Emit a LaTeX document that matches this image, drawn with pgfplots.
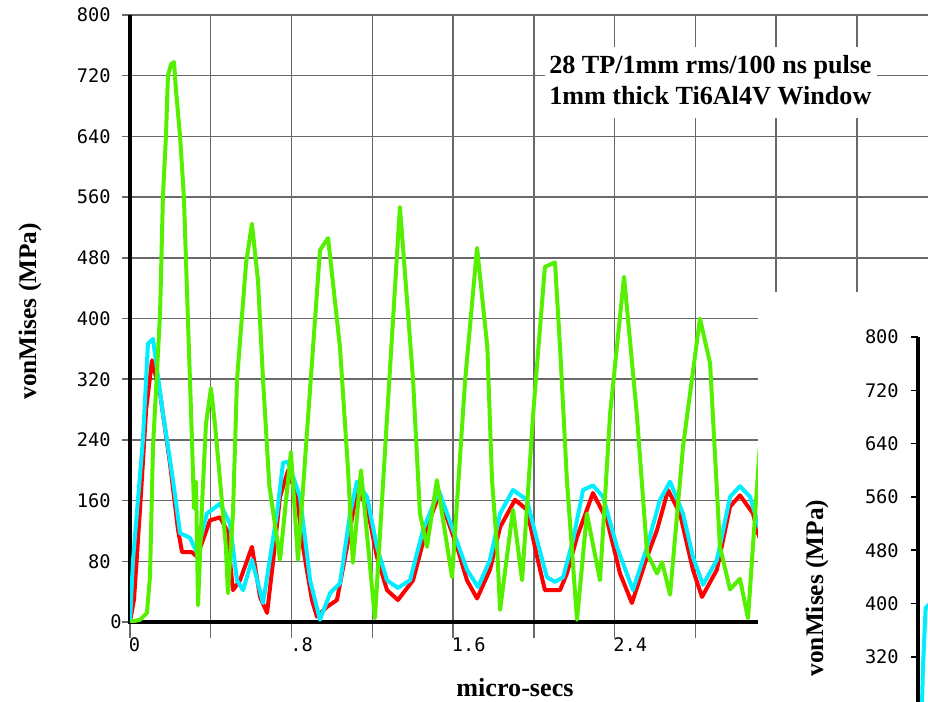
\documentclass[border=0pt]{standalone}
\usepackage{fontspec}
\setmainfont{Liberation Serif}
\newfontfamily\tickfont{DejaVu Sans Mono}
\usepackage{pgfplots}
\pgfplotsset{compat=1.18}

\definecolor{vmgreen}{RGB}{84,240,0}
\definecolor{vmred}{RGB}{255,0,0}
\definecolor{vmcyan}{RGB}{0,238,255}
\definecolor{gridgray}{RGB}{105,105,105}

\newcommand\tickfs{\tickfont\fontsize{14}{14}\selectfont}
\newcommand\labfs{\bfseries\fontsize{19.6}{19.6}\selectfont}
\newcommand\ylabfs{\bfseries\fontsize{19}{19}\selectfont}

\begin{document}
\begin{tikzpicture}[x=0.75pt,y=-0.75pt]
\path[use as bounding box] (0,0) rectangle (928,701);
\coordinate (mainO) at (130,622);
\coordinate (insetO) at (918,870);

% main stress history
\begin{axis}[
  at={(mainO)}, anchor=south west,
  scale only axis, width=605.7pt, height=455.25pt,
  xmin=0, xmax=4, ymin=0, ymax=800,
  enlargelimits=false,
  axis x line*=bottom, axis y line*=left,
  x axis line style={line width=3pt, black, shorten <=-1.5pt},
  y axis line style={line width=3pt, black},
  xtick={0,0.4,0.8,1.2,1.6,2.0,2.4,2.8,3.2,3.6,4.0},
  xticklabels={0,,.8,,1.6,,2.4,,,,},
  ytick={0,80,160,240,320,400,480,560,640,720,800},
  yticklabels={0\hspace*{-9pt},80,160,240,320,400,480,560,640,720,800},
  grid=major,
  grid style={draw=gridgray, line width=1.1pt},
  tick align=outside,
  xtick style={draw=gridgray, line width=1.1pt, /pgfplots/major tick length=12pt},
  ytick style={draw=gridgray, line width=1.1pt, /pgfplots/major tick length=6pt},
  xticklabel style={font=\tickfs, anchor=north west, inner sep=0pt, yshift=-7pt, xshift=-1pt},
  yticklabel style={font=\tickfs, anchor=east, inner sep=0pt, xshift=-10pt},
  xlabel={micro-secs},
  xlabel style={at={(axis description cs:0.4767,-0.108)}, anchor=center, font=\labfs},
  ylabel={vonMises (MPa)},
  ylabel style={at={(axis description cs:-0.1238,0.512)}, anchor=center, font=\ylabfs},
  line join=round,
]
\addplot[vmred, line width=3pt] coordinates {
(0,0) (0.02,30) (0.05,150) (0.08,280) (0.109,345) (0.149,301) (0.198,209)
(0.238,121) (0.258,92) (0.307,92) (0.332,86) (0.396,134) (0.446,138)
(0.480,121) (0.510,42) (0.545,55) (0.604,99) (0.644,33) (0.679,12)
(0.708,78) (0.743,165) (0.783,200) (0.827,165) (0.857,99) (0.901,29)
(0.926,7) (0.976,20) (1.025,29) (1.075,99) (1.124,174) (1.174,152)
(1.223,86) (1.273,42) (1.327,29) (1.402,55) (1.471,125) (1.530,167)
(1.620,99) (1.669,55) (1.719,31) (1.783,69) (1.833,125) (1.907,161)
(1.966,148) (2.016,86) (2.055,42) (2.130,42) (2.164,64) (2.214,112)
(2.293,170) (2.363,134) (2.427,64) (2.486,25) (2.561,86) (2.610,121)
(2.665,174) (2.724,143) (2.788,69) (2.833,33) (2.907,69) (2.972,152)
(3.021,167) (3.086,143) (3.110,117) (3.15,90)
};
\addplot[vmcyan, line width=3pt] coordinates {
(0,0) (0.015,82) (0.064,240) (0.089,367) (0.114,373) (0.163,275)
(0.213,187) (0.248,117) (0.297,111) (0.332,91) (0.381,143) (0.446,156)
(0.495,130) (0.530,55) (0.560,42) (0.604,82) (0.659,25) (0.728,143)
(0.758,210) (0.783,211) (0.842,165) (0.892,55) (0.941,3) (0.991,38)
(1.040,51) (1.090,143) (1.124,185) (1.174,165) (1.223,99) (1.273,55)
(1.327,45) (1.387,55) (1.451,121) (1.530,173) (1.600,121) (1.669,69)
(1.724,46) (1.783,82) (1.833,143) (1.897,174) (1.966,161) (2.016,108)
(2.065,59) (2.105,53) (2.145,59) (2.194,108) (2.244,174) (2.293,180)
(2.343,165) (2.412,99) (2.491,42) (2.561,99) (2.625,161) (2.675,185)
(2.739,143) (2.788,86) (2.838,49) (2.907,82) (2.972,165) (3.021,179)
(3.071,165) (3.110,130) (3.15,100)
};
\addplot[vmgreen, line width=3pt] coordinates {
(0,0) (0.05,3) (0.084,12) (0.099,60) (0.114,231) (0.149,407) (0.163,560)
(0.178,640) (0.188,720) (0.203,735) (0.218,738) (0.228,700) (0.248,640)
(0.267,560) (0.287,398) (0.307,240) (0.317,150) (0.327,185) (0.337,22)
(0.356,150) (0.376,260) (0.401,308) (0.421,260) (0.446,187) (0.475,99)
(0.485,38) (0.510,143) (0.530,319) (0.575,473) (0.604,525) (0.634,450)
(0.659,319) (0.690,180) (0.743,82) (0.797,224) (0.832,82) (0.890,300)
(0.941,490) (0.981,506) (1.040,362) (1.080,200) (1.104,78) (1.144,200)
(1.213,5) (1.280,300) (1.337,547) (1.402,319) (1.436,143) (1.471,99)
(1.520,187) (1.595,59) (1.660,319) (1.719,493) (1.770,362) (1.793,187)
(1.818,99) (1.833,16) (1.897,148) (1.942,55) (1.997,275) (2.055,468)
(2.105,474) (2.130,362) (2.164,187) (2.214,3) (2.263,143) (2.328,55)
(2.378,275) (2.447,455) (2.510,275) (2.561,91) (2.610,64) (2.635,79)
(2.675,36) (2.739,231) (2.823,400) (2.873,341) (2.922,99) (2.972,43)
(3.021,57) (3.061,5) (3.115,215) (3.15,330)
};
\end{axis}

% annotation box
\fill[white] (545,47) rectangle (877,118);
\node[anchor=base west, inner sep=0pt, font=\labfs] at (549,73) {28 TP/1mm rms/100 ns pulse};
\node[anchor=base west, inner sep=0pt, font=\labfs] at (549,104) {1mm thick Ti6Al4V Window};

% second panel
\fill[white] (758,292) rectangle (945,720);
\begin{axis}[
  at={(insetO)}, anchor=south west,
  scale only axis, width=75pt, height=399.75pt,
  xmin=0, xmax=0.5, ymin=0, ymax=800,
  enlargelimits=false,
  hide x axis, axis y line*=left,
  y axis line style={line width=3pt, black},
  ytick={240,320,400,480,560,640,720,800},
  yticklabels={,320,400,480,560,640,720,800},
  tick align=outside,
  ytick style={draw=black, line width=1.1pt, /pgfplots/major tick length=5pt},
  yticklabel style={font=\tickfs, anchor=east, inner sep=0pt, xshift=-10pt},
  ylabel={vonMises (MPa)},
  ylabel style={at={(axis description cs:-1.01,0.529)}, anchor=center, font=\ylabfs},
]
\addplot[vmcyan, line width=3pt] coordinates {
(0,0) (0.02,250) (0.025,305) (0.038,393) (0.06,400) (0.1,420)
};
\end{axis}
\end{tikzpicture}
\end{document}
